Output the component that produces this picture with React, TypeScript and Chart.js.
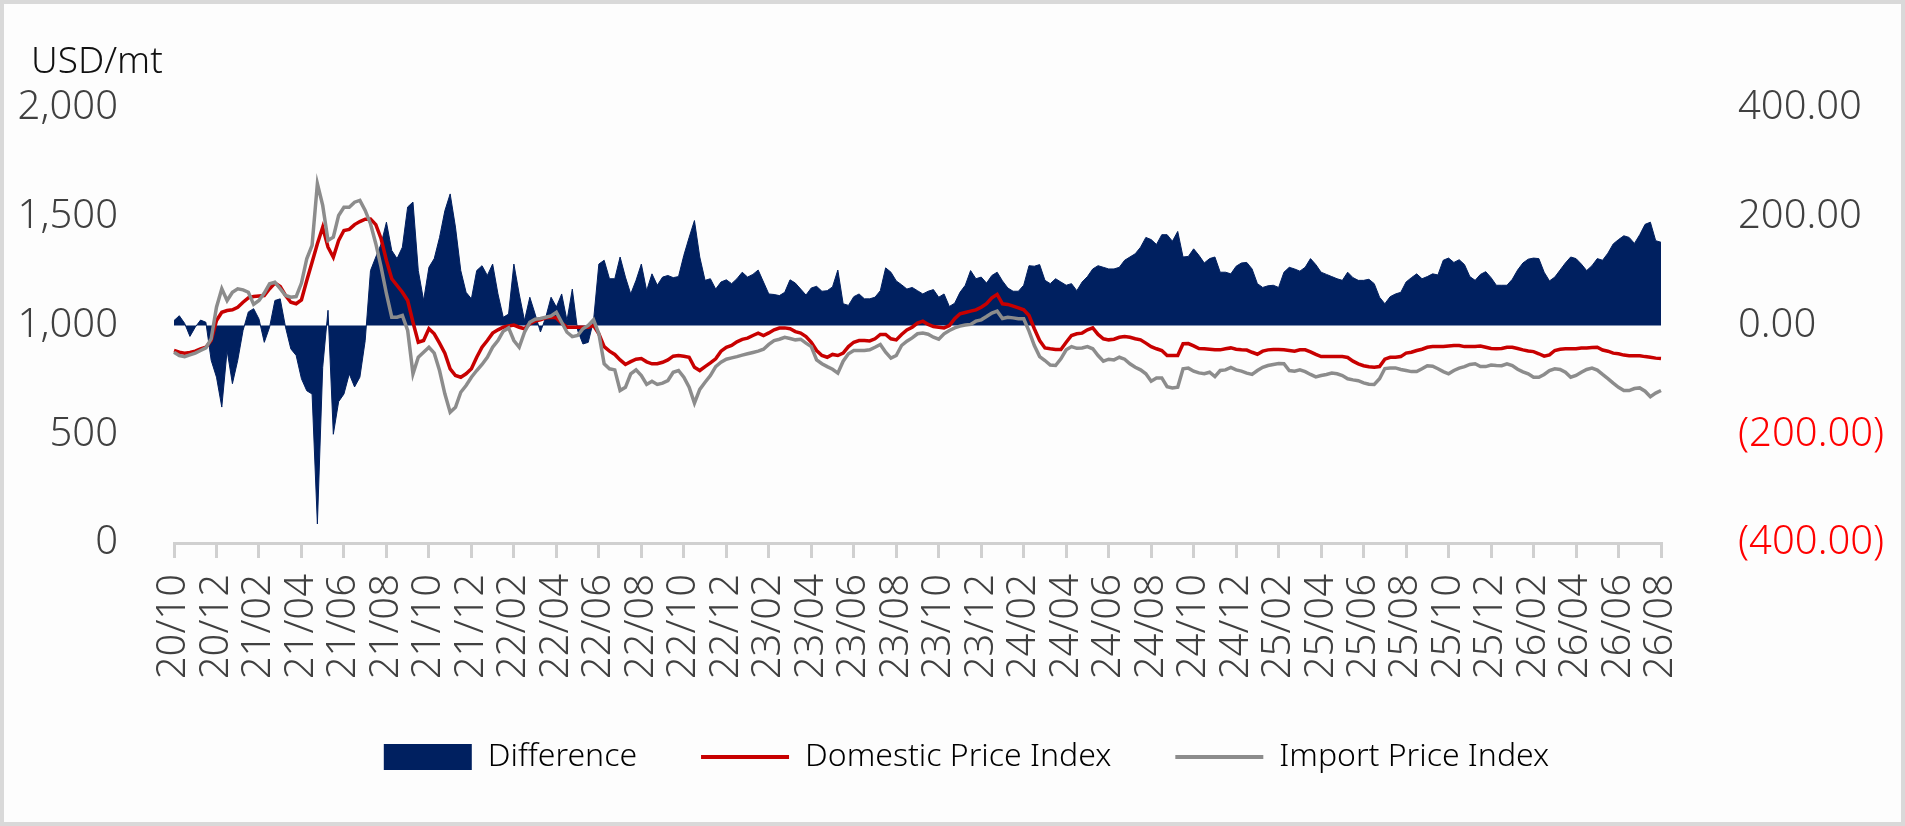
import React, { useEffect, useRef } from "react";
import Chart from "chart.js/auto";

const unitLabel = "USD/mt";

const tickLabels = [
  "20/10", "20/12", "21/02", "21/04", "21/06", "21/08", "21/10", "21/12",
  "22/02", "22/04", "22/06", "22/08", "22/10", "22/12", "23/02", "23/04",
  "23/06", "23/08", "23/10", "23/12", "24/02", "24/04", "24/06", "24/08",
  "24/10", "24/12", "25/02", "25/04", "25/06", "25/08", "25/10", "25/12",
  "26/02", "26/04", "26/06", "26/08",
];

// readings taken 8 per tick interval
const samplesPerTick = 8;

const domesticIndex = [
  885, 877, 873, 876, 882, 893, 900, 931, 1023, 1061,
  1069, 1072, 1084, 1107, 1127, 1133, 1136, 1138, 1169, 1195,
  1179, 1138, 1107, 1100, 1118, 1207, 1291, 1376, 1452, 1360,
  1314, 1391, 1437, 1442, 1464, 1478, 1489, 1490, 1464, 1399,
  1299, 1215, 1184, 1153, 1115, 1015, 923, 931, 985, 962,
  919, 873, 801, 770, 762, 778, 801, 854, 900, 931,
  965, 980, 992, 998, 1002, 992, 985, 1008, 1021, 1026,
  1035, 1038, 1035, 1011, 992, 992, 992, 992, 992, 1000,
  962, 903, 882, 867, 842, 821, 834, 845, 848, 833,
  824, 824, 831, 842, 859, 862, 859, 854, 808, 793,
  811, 828, 847, 882, 900, 908, 925, 936, 942, 954,
  965, 954, 966, 980, 988, 989, 985, 972, 965, 949,
  923, 885, 862, 854, 867, 862, 873, 903, 923, 931,
  931, 929, 939, 959, 959, 939, 934, 959, 980, 992,
  1011, 1020, 1005, 995, 992, 989, 1000, 1031, 1054, 1060,
  1066, 1072, 1084, 1100, 1127, 1143, 1100, 1097, 1089, 1081,
  1072, 1046, 985, 931, 897, 893, 890, 890, 923, 954,
  962, 965, 980, 989, 959, 939, 934, 937, 946, 949,
  946, 939, 934, 919, 903, 893, 885, 862, 862, 862,
  916, 917, 906, 894, 893, 891, 888, 888, 893, 897,
  891, 888, 887, 877, 868, 882, 888, 890, 890, 888,
  885, 882, 888, 888, 879, 867, 857, 857, 857, 857,
  857, 853, 836, 824, 815, 810, 808, 811, 845, 854,
  854, 857, 873, 877, 885, 891, 900, 903, 903, 903,
  906, 908, 908, 903, 903, 903, 906, 900, 894, 893,
  894, 900, 900, 894, 888, 883, 880, 870, 859, 865,
  885, 891, 893, 893, 893, 897, 897, 899, 900, 887,
  882, 873, 870, 864, 861, 861, 861, 857, 854, 850,
  848,
];

const importIndex = [
  877, 862, 857, 865, 873, 885, 897, 939, 1084, 1169,
  1115, 1153, 1169, 1164, 1153, 1097, 1115, 1149, 1192, 1199,
  1169, 1138, 1130, 1133, 1195, 1307, 1368, 1652, 1552, 1391,
  1406, 1506, 1544, 1544, 1567, 1575, 1529, 1468, 1376, 1268,
  1146, 1038, 1038, 1046, 977, 778, 854, 877, 900, 873,
  793, 686, 601, 624, 693, 724, 762, 793, 821, 854,
  900, 931, 974, 989, 931, 900, 969, 1015, 1029, 1032,
  1038, 1044, 1061, 1015, 969, 949, 954, 985, 1000, 1026,
  962, 824, 801, 796, 701, 716, 778, 796, 770, 729,
  744, 729, 735, 747, 785, 793, 762, 716, 643, 706,
  739, 770, 811, 831, 845, 851, 857, 864, 870, 876,
  882, 891, 913, 931, 937, 946, 940, 934, 937, 919,
  903, 842, 824, 811, 799, 781, 836, 870, 885, 885,
  885, 888, 900, 913, 877, 850, 862, 908, 928, 943,
  962, 965, 960, 946, 937, 962, 977, 989, 997, 1002,
  1005, 1020, 1026, 1041, 1057, 1066, 1032, 1038, 1035, 1031,
  1031, 974, 908, 857, 839, 818, 816, 847, 888, 903,
  895, 897, 903, 893, 862, 836, 845, 842, 854, 845,
  824, 808, 796, 778, 744, 759, 759, 719, 713, 716,
  801, 804, 790, 782, 778, 785, 765, 793, 796, 807,
  796, 790, 781, 775, 793, 808, 816, 821, 825, 824,
  793, 790, 796, 788, 775, 764, 770, 775, 781, 778,
  770, 755, 750, 746, 736, 730, 729, 755, 802, 805,
  805, 798, 793, 788, 788, 801, 815, 813, 801, 788,
  778, 793, 804, 811, 821, 824, 811, 811, 818, 816,
  815, 824, 816, 799, 787, 778, 762, 762, 775, 793,
  801, 798, 785, 762, 770, 785, 798, 804, 795, 775,
  756, 735, 716, 701, 701, 710, 713, 698, 673, 689,
  701,
];

const difference = [
  9, 18, 4, -20, -3, 10, 6, -64, -95, -150,
  -46, -107, -64, -9, 25, 31, 12, -31, -3, 46,
  49, -3, -43, -55, -98, -120, -126, -365, -77, 28,
  -200, -140, -126, -89, -113, -95, -28, 101, 126, 150,
  190, 138, 123, 144, 218, 227, 101, 46, 107, 123,
  162, 211, 242, 181, 101, 61, 49, 101, 110, 92,
  113, 58, 15, 21, 113, 58, 9, 52, 21, -12,
  15, 52, 34, 58, 9, 67, -9, -34, -31, 9,
  113, 120, 86, 86, 126, 89, 58, 83, 113, 64,
  95, 74, 89, 92, 88, 90, 129, 162, 193, 126,
  83, 86, 67, 80, 84, 77, 86, 98, 89, 94,
  102, 80, 58, 57, 55, 61, 84, 78, 67, 56,
  69, 72, 63, 64, 71, 102, 40, 37, 53, 58,
  49, 49, 52, 64, 106, 98, 82, 75, 67, 70,
  64, 58, 63, 66, 52, 58, 35, 41, 61, 74,
  101, 86, 89, 78, 92, 98, 82, 69, 63, 63,
  74, 110, 109, 112, 83, 77, 86, 80, 74, 77,
  64, 80, 90, 104, 110, 107, 104, 104, 107, 120,
  126, 132, 144, 162, 158, 149, 167, 167, 155, 173,
  126, 127, 141, 129, 115, 123, 126, 98, 98, 95,
  109, 115, 116, 104, 77, 70, 73, 74, 70, 98,
  107, 104, 100, 107, 123, 112, 98, 94, 90, 86,
  83, 98, 88, 83, 83, 85, 77, 52, 40, 53,
  58, 61, 80, 88, 95, 86, 90, 95, 93, 120,
  124, 116, 121, 112, 90, 83, 94, 99, 88, 74,
  74, 74, 85, 102, 115, 122, 124, 123, 98, 82,
  89, 102, 115, 126, 123, 113, 101, 110, 123, 120,
  133, 150, 158, 165, 162, 151, 167, 186, 190, 156,
  153,
];

const NAVY = "#002060";
const RED = "#c80000";
const GRAY = "#8c8c8c";
const AXIS_GRAY = "#d0d0d0";
const TICK_TEXT = "#404040";
const FONT = '"Noto Sans", sans-serif';

const pointLabels = domesticIndex.map((_, i) =>
  i % samplesPerTick === 0 ? tickLabels[i / samplesPerTick] : ""
);

// unit caption above the left axis
const unitTitle = {
  id: "unitTitle",
  afterDraw(chart: Chart) {
    const { ctx } = chart;
    ctx.save();
    ctx.font = `300 37px ${FONT}`;
    ctx.fillStyle = "#111111";
    ctx.textBaseline = "alphabetic";
    ctx.textAlign = "left";
    ctx.fillText(unitLabel, 27, 69);
    ctx.restore();
  },
};

// nudge the legend row a little to the right, as in the source
const legendNudge = {
  id: "legendNudge",
  afterLayout(chart: any) {
    if (chart.legend) {
      chart.legend.left += 14;
      chart.legend.right += 14;
    }
  },
};

const App: React.FC = () => {
  const canvasRef = useRef<HTMLCanvasElement | null>(null);

  useEffect(() => {
    const canvas = canvasRef.current;
    if (!canvas) return;

    const chart = new Chart(canvas, {
      type: "line",
      data: {
        labels: pointLabels,
        datasets: [
          {
            label: "Difference",
            data: difference,
            yAxisID: "y1",
            fill: "origin",
            backgroundColor: NAVY,
            borderColor: NAVY,
            borderWidth: 1,
            pointRadius: 0,
            tension: 0,
            order: 3,
          },
          {
            label: "Domestic Price Index",
            data: domesticIndex,
            yAxisID: "y",
            fill: false,
            borderColor: RED,
            borderWidth: 3.5,
            pointRadius: 0,
            tension: 0,
            order: 2,
          },
          {
            label: "Import Price Index",
            data: importIndex,
            yAxisID: "y",
            fill: false,
            borderColor: GRAY,
            borderWidth: 3.5,
            pointRadius: 0,
            tension: 0,
            order: 1,
          },
        ],
      },
      options: {
        responsive: false,
        animation: false,
        events: [],
        layout: { padding: { top: 104, bottom: 39, left: 0, right: 0 } },
        plugins: {
          title: { display: false },
          tooltip: { enabled: false },
          legend: {
            position: "bottom",
            labels: {
              usePointStyle: true,
              pointStyleWidth: 88,
              boxHeight: 26,
              padding: 64,
              color: "#111111",
              font: { size: 32, family: FONT, weight: "300" },
              generateLabels: (c: Chart) =>
                c.data.datasets.map((ds: any, i: number) => ({
                  text: ds.label,
                  fillStyle: ds.borderColor,
                  strokeStyle: ds.borderColor,
                  lineWidth: i === 0 ? 0 : 4,
                  pointStyle: i === 0 ? "rect" : "line",
                  hidden: false,
                  datasetIndex: i,
                })),
            },
          },
        },
        scales: {
          x: {
            type: "category",
            offset: false,
            afterBuildTicks: (axis: any) => {
              axis.ticks = axis.ticks.filter((t: any) => t.value % samplesPerTick === 0);
            },
            afterFit: (scale: any) => {
              scale.height = 134;
            },
            grid: {
              display: true,
              drawOnChartArea: false,
              drawTicks: true,
              tickLength: 15,
              tickWidth: 3,
              tickColor: AXIS_GRAY,
              color: AXIS_GRAY,
              lineWidth: 3,
            },
            border: { display: true, color: AXIS_GRAY, width: 3 },
            ticks: {
              autoSkip: false,
              minRotation: 90,
              maxRotation: 90,
              padding: 16,
              color: TICK_TEXT,
              font: { size: 40, family: FONT, weight: "300" },
            },
          },
          y: {
            position: "left",
            min: 0,
            max: 2000,
            afterFit: (scale: any) => {
              scale.width = 170;
            },
            grid: { display: false, drawTicks: false },
            border: { display: false },
            ticks: {
              stepSize: 500,
              padding: 56,
              color: TICK_TEXT,
              font: { size: 40, family: FONT, weight: "300" },
              callback: (v: any) => Number(v).toLocaleString("en-US"),
            },
          },
          y1: {
            position: "right",
            min: -400,
            max: 400,
            afterFit: (scale: any) => {
              scale.width = 240;
            },
            grid: { display: false, drawTicks: false },
            border: { display: false },
            ticks: {
              stepSize: 200,
              padding: 77,
              color: (ctx: any) => (ctx.tick && ctx.tick.value < 0 ? "#ff0000" : TICK_TEXT),
              font: { size: 40, family: FONT, weight: "300" },
              callback: (v: any) => {
                const n = Number(v);
                return n < 0 ? `(${Math.abs(n).toFixed(2)})` : n.toFixed(2);
              },
            },
          },
        },
      },
      plugins: [unitTitle, legendNudge],
    } as any);

    return () => {
      chart.destroy();
    };
  }, []);

  return (
    <div
      style={{
        position: "fixed",
        left: 0,
        top: 0,
        width: 1905,
        height: 826,
        boxSizing: "border-box",
        border: "4px solid #d9d9d9",
        background: "#fdfdfd",
      }}
    >
      <canvas ref={canvasRef} width={1897} height={818} style={{ display: "block" }}></canvas>
    </div>
  );
};

export default App;
